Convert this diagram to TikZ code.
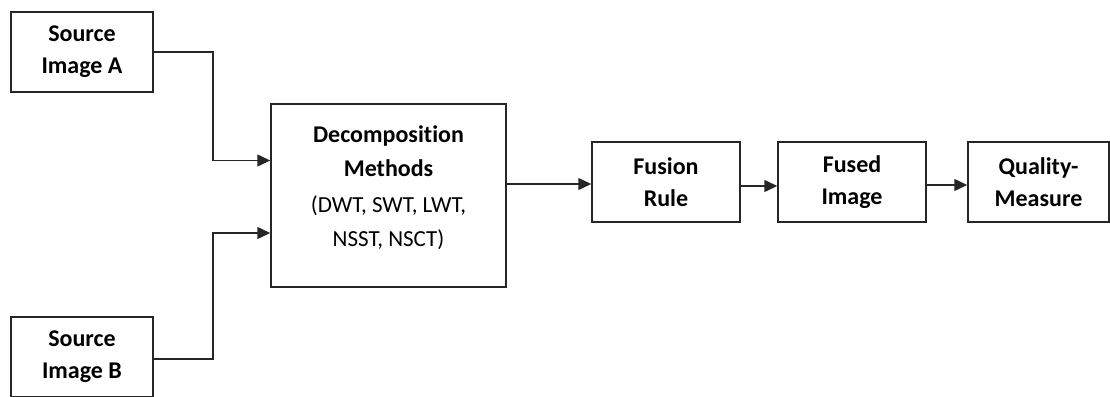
\documentclass[tikz,border=0pt]{standalone}
\usepackage{fontspec}
\setmainfont{Carlito}[Ligatures=NoCommon]
\usetikzlibrary{arrows.meta}
\begin{document}
\begin{tikzpicture}[x=1pt,y=-1pt,
  box/.style={draw=black!85,line width=1.5pt,inner sep=0pt,align=center,
    font=\fontsize{24}{32}\selectfont\bfseries},
  txt/.style={inner sep=0pt,align=center,font=\fontsize{24}{34}\selectfont},
  arr/.style={draw=black!85,line width=1.5pt,-{Triangle[length=13pt,width=12pt]}},
  ln/.style={draw=black!85,line width=1.5pt}]
\useasboundingbox (0,0) rectangle (1110,396);
\clip (0,0) rectangle (1110,396);
\node[box,minimum width=142pt,minimum height=80pt] (A) at (82,52) {Source\\Image A};
\node[box,minimum width=142pt,minimum height=80pt] (B) at (82,357) {Source\\Image B};
\node[box,minimum width=235pt,minimum height=183pt] (D) at (388.5,195.5) {};
\node[txt] (Dt) at (388.5,188) {\bfseries Decomposition\\\bfseries Methods\\[2pt]\mdseries\fontsize{23}{28}\selectfont (DWT, SWT, LWT,\\\mdseries\fontsize{23}{28}\selectfont NSST, NSCT)};
\node[box,minimum width=148pt,minimum height=80pt] (F) at (666,182) {Fusion\\Rule};
\node[box,minimum width=148pt,minimum height=80pt] (G) at (852,182) {Fused\\Image};
\node[box,minimum width=141pt,minimum height=80pt] (Q) at (1038.5,182) {Quality-\\Measure};
\coordinate (ja) at (213,52);
\coordinate (jb) at (213,359);
\draw[arr] (A.east) -- (ja) |- ([yshift=35pt]D.west);
\draw[arr] ([yshift=-2pt]B.east) -- (jb) |- ([yshift=-37.5pt]D.west);
\draw[arr] ([yshift=11.5pt]D.east) -- ([yshift=-2pt]F.west);
\draw[arr] ([yshift=-4pt]F.east) -- ([yshift=-4pt]G.west);
\draw[arr] ([yshift=-3pt]G.east) -- ([yshift=-3pt]Q.west);
\end{tikzpicture}
\end{document}
